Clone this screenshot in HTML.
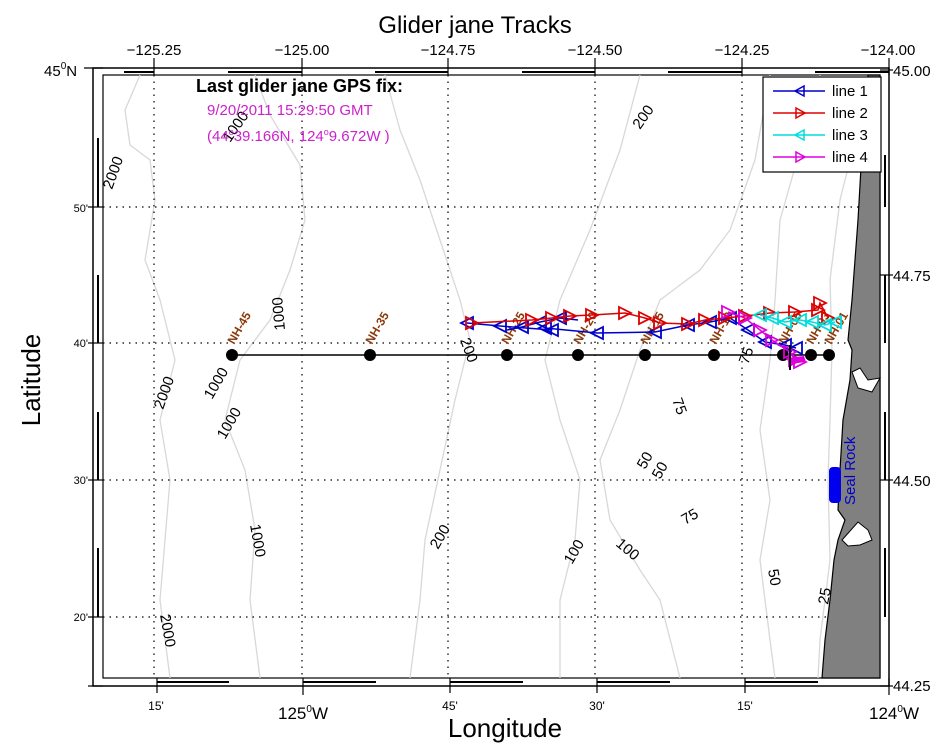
<!DOCTYPE html>
<html><head><style>
body{margin:0;background:#fff;}
svg{display:block;font-family:"Liberation Sans",sans-serif;}
</style></head><body>
<svg width="950" height="748" viewBox="0 0 950 748">
<defs>
<marker id="tl" markerWidth="16" markerHeight="16" refX="8" refY="8" orient="0" markerUnits="userSpaceOnUse"><path d="M14,2 L2,8 L14,14 Z" fill="none" stroke="#0000cc" stroke-width="1.8"/></marker>
<marker id="tr" markerWidth="16" markerHeight="16" refX="8" refY="8" orient="0" markerUnits="userSpaceOnUse"><path d="M2,2 L14,8 L2,14 Z" fill="none" stroke="#dd0000" stroke-width="1.8"/></marker>
<marker id="tc" markerWidth="16" markerHeight="16" refX="8" refY="8" orient="0" markerUnits="userSpaceOnUse"><path d="M14,2 L2,8 L14,14 Z" fill="none" stroke="#00dddd" stroke-width="1.8"/></marker>
<marker id="tm" markerWidth="16" markerHeight="16" refX="8" refY="8" orient="0" markerUnits="userSpaceOnUse"><path d="M2,2 L14,8 L2,14 Z" fill="none" stroke="#dd00dd" stroke-width="1.8"/></marker>
</defs>
<text x="475" y="33" font-size="24" text-anchor="middle">Glider jane Tracks</text>
<g font-size="15" text-anchor="middle">
<text x="154" y="55">−125.25</text><text x="302" y="55">−125.00</text><text x="448" y="55">−124.75</text><text x="595" y="55">−124.50</text><text x="742" y="55">−124.25</text><text x="888" y="55">−124.00</text>
</g>
<g font-size="15">
<text x="893" y="76">45.00</text><text x="893" y="281">44.75</text><text x="893" y="486">44.50</text><text x="893" y="691">44.25</text>
<text x="44" y="76">45<tspan font-size="10" dy="-7">0</tspan><tspan dy="7">N</tspan></text>
</g>
<g font-size="11" text-anchor="end">
<text x="88" y="212">50'</text><text x="88" y="347">40'</text><text x="88" y="484">30'</text><text x="88" y="621">20'</text>
</g>
<g font-size="12" text-anchor="middle">
<text x="156" y="710">15'</text><text x="450" y="710">45'</text><text x="597" y="710">30'</text><text x="745" y="710">15'</text>
</g>
<g font-size="17" text-anchor="middle">
<text x="303" y="719">125<tspan font-size="10" dy="-7">0</tspan><tspan dy="7">W</tspan></text>
<text x="894" y="719">124<tspan font-size="10" dy="-7">0</tspan><tspan dy="7">W</tspan></text>
</g>
<text x="505" y="737" font-size="26" text-anchor="middle">Longitude</text>
<text transform="translate(40,380) rotate(-90)" font-size="26" text-anchor="middle">Latitude</text>
<!-- frame -->
<rect x="93" y="68" width="796" height="618" fill="none" stroke="#000" stroke-width="1.5"/>
<rect x="103" y="75" width="777" height="603" fill="none" stroke="#000" stroke-width="1.2"/>
<g stroke="#000" stroke-width="2">
<line x1="124" y1="72" x2="154" y2="72"/><line x1="228" y1="72" x2="302" y2="72"/><line x1="375" y1="72" x2="448" y2="72"/><line x1="522" y1="72" x2="595" y2="72"/><line x1="668" y1="72" x2="742" y2="72"/><line x1="815" y1="72" x2="889" y2="72"/>
<line x1="157" y1="682" x2="229" y2="682"/><line x1="303" y1="682" x2="376" y2="682"/><line x1="450" y1="682" x2="523" y2="682"/><line x1="597" y1="682" x2="670" y2="682"/><line x1="745" y1="682" x2="818" y2="682"/>
<line x1="98" y1="138" x2="98" y2="207"/><line x1="98" y1="275" x2="98" y2="343"/><line x1="98" y1="412" x2="98" y2="480"/><line x1="98" y1="548" x2="98" y2="617"/>
<line x1="885" y1="155" x2="885" y2="207"/><line x1="885" y1="275" x2="885" y2="343"/><line x1="885" y1="412" x2="885" y2="480"/><line x1="885" y1="548" x2="885" y2="617"/>
</g>
<g stroke="#000" stroke-width="1.2">
<line x1="154" y1="58" x2="154" y2="75"/><line x1="302" y1="58" x2="302" y2="75"/><line x1="448" y1="58" x2="448" y2="75"/><line x1="595" y1="58" x2="595" y2="75"/><line x1="742" y1="58" x2="742" y2="75"/><line x1="889" y1="58" x2="889" y2="75"/>
<line x1="157" y1="678" x2="157" y2="693"/><line x1="303" y1="678" x2="303" y2="695"/><line x1="450" y1="678" x2="450" y2="693"/><line x1="597" y1="678" x2="597" y2="693"/><line x1="745" y1="678" x2="745" y2="693"/><line x1="889" y1="678" x2="889" y2="695"/>
<line x1="88" y1="207" x2="103" y2="207"/><line x1="88" y1="343" x2="103" y2="343"/><line x1="88" y1="480" x2="103" y2="480"/><line x1="88" y1="617" x2="103" y2="617"/><line x1="84" y1="68" x2="103" y2="68"/><line x1="88" y1="686" x2="103" y2="686"/>
<line x1="880" y1="275" x2="893" y2="275"/><line x1="880" y1="480" x2="893" y2="480"/><line x1="880" y1="70" x2="893" y2="70"/><line x1="880" y1="686" x2="893" y2="686"/>
</g>
<!-- contours -->
<g fill="none" stroke="#d8d8d8" stroke-width="1.3">
<path d="M140,75 L125,110 L130,145 L150,160 L155,200 L145,260 L160,300 L175,360 L160,420 L170,480 L165,540 L160,600 L170,678"/>
<path d="M255,75 L270,115 L285,140 L300,165 L305,220 L290,270 L270,320 L240,360 L225,420 L245,470 L255,530 L250,600 L260,678"/>
<path d="M385,75 L400,130 L420,180 L440,240 L460,300 L470,340 L455,400 L440,470 L425,540 L420,600 L410,678"/>
<path d="M640,75 L620,150 L590,230 L560,300 L545,360 L560,420 L580,480 L575,540 L560,600 L560,678"/>
<path d="M770,75 L755,160 L730,230 L700,270 L660,300 L640,350 L620,410 L600,460 L610,520 L640,570 L660,600 L680,678"/>
<path d="M820,75 L800,150 L780,220 L775,300 L770,360 L760,430 L770,500 L760,560 L770,640 L775,678"/>
<path d="M855,140 L840,200 L830,280 L832,350 L830,420 L828,480 L830,560 L820,640 L818,678"/>
</g>
<!-- grid -->
<g stroke="#000" stroke-width="1.2" stroke-dasharray="1.5,5">
<line x1="154" y1="75" x2="154" y2="678"/><line x1="302" y1="75" x2="302" y2="678"/><line x1="448" y1="75" x2="448" y2="678"/><line x1="595" y1="75" x2="595" y2="678"/><line x1="742" y1="75" x2="742" y2="678"/>
<line x1="103" y1="207" x2="880" y2="207"/><line x1="103" y1="343" x2="880" y2="343"/><line x1="103" y1="480" x2="880" y2="480"/><line x1="103" y1="617" x2="880" y2="617"/>
</g>
<!-- land -->
<path d="M880,75 L868,75 L862,150 L858,220 L852,300 L848,340 L852,350 L850,380 L843,420 L840,470 L838,510 L845,520 L838,540 L834,560 L830,600 L825,640 L822,678 L880,678 Z" fill="#808080" stroke="#000" stroke-width="1.2"/>
<path d="M852,372 L860,368 L868,380 L880,378 L872,392 L858,388 Z" fill="#fff" stroke="#000"/>
<path d="M842,540 L858,522 L868,530 L872,540 L860,545 L848,546 Z" fill="#fff" stroke="#000"/>
<!-- contour labels -->
<g font-size="15" fill="#000">
<text transform="translate(112,190) rotate(-70)">2000</text>
<text transform="translate(230,143) rotate(-55)">1000</text>
<text transform="translate(640,130) rotate(-55)">200</text>
<text transform="translate(285,330) rotate(-95)">1000</text>
<text transform="translate(163,410) rotate(-70)">2000</text>
<text transform="translate(212,400) rotate(-60)">1000</text>
<text transform="translate(225,440) rotate(-60)">1000</text>
<text transform="translate(250,525) rotate(80)">1000</text>
<text transform="translate(160,615) rotate(80)">2000</text>
<text transform="translate(460,340) rotate(70)">200</text>
<text transform="translate(438,550) rotate(-60)">200</text>
<text transform="translate(672,400) rotate(70)">75</text>
<text transform="translate(645,470) rotate(-60)">50</text>
<text transform="translate(660,480) rotate(-60)">50</text>
<text transform="translate(685,525) rotate(-30)">75</text>
<text transform="translate(572,565) rotate(-60)">100</text>
<text transform="translate(615,545) rotate(40)">100</text>
<text transform="translate(768,570) rotate(80)">50</text>
<text transform="translate(828,605) rotate(-80)">25</text>
<text transform="translate(748,365) rotate(-70)">75</text>
</g>
<!-- NH line -->
<line x1="232" y1="355" x2="829" y2="355" stroke="#000" stroke-width="1.5"/>
<g fill="#000"><circle cx="232" cy="355" r="6"/><circle cx="370" cy="355" r="6"/><circle cx="507" cy="355" r="6"/><circle cx="578" cy="355" r="6"/><circle cx="645" cy="355" r="6"/><circle cx="714" cy="355" r="6"/><circle cx="783" cy="355" r="6"/><circle cx="811" cy="355" r="6"/><circle cx="829" cy="355" r="6"/></g>
<g font-size="12" font-weight="bold" fill="#8b3a0a">
<text transform="translate(234,345) rotate(-60)">NH-45</text>
<text transform="translate(372,345) rotate(-60)">NH-35</text>
<text transform="translate(508,345) rotate(-60)">NH-25</text>
<text transform="translate(580,345) rotate(-60)">NH-20</text>
<text transform="translate(647,345) rotate(-60)">NH-15</text>
<text transform="translate(716,345) rotate(-60)">NH-10</text>
<text transform="translate(785,345) rotate(-60)">NH-05</text>
<text transform="translate(813,345) rotate(-60)">NH-03</text>
<text transform="translate(831,345) rotate(-60)">NH-01</text>
</g>
<!-- tracks -->
<polyline fill="none" stroke="#0000cc" stroke-width="1.5" marker-start="url(#tl)" marker-mid="url(#tl)" marker-end="url(#tl)" points="467,323 500,326 552,330 545,328 597,333 655,332 688,325 710,322 730,318 748,330 765,342 785,345 796,348"/>
<polyline fill="none" stroke="#0000cc" stroke-width="1.5" marker-mid="url(#tl)" points="507,330 522,327 540,322 560,318 578,320"/>
<polyline fill="none" stroke="#dd0000" stroke-width="1.5" marker-start="url(#tr)" marker-mid="url(#tr)" marker-end="url(#tr)" points="472,323 532,320 552,318 570,316 592,315 625,313 645,318 660,323 688,324 705,320 725,318 745,316 770,313 795,312 818,310 820,303 828,318"/>
<polyline fill="none" stroke="#00dddd" stroke-width="1.5" marker-start="url(#tc)" marker-mid="url(#tc)" marker-end="url(#tc)" points="760,315 772,318 785,322 800,320 812,322 825,325 835,322"/>
<polyline fill="none" stroke="#dd00dd" stroke-width="1.5" marker-start="url(#tm)" marker-mid="url(#tm)" marker-end="url(#tm)" points="728,312 745,318 760,330 772,340 790,352 795,360 800,362"/>
<path d="M786,358 L804,356 L806,362 L790,364 Z" fill="#dd00dd"/>
<line x1="790" y1="345" x2="790" y2="370" stroke="#000" stroke-width="2"/>
<!-- Seal Rock -->
<rect x="829" y="467" width="12" height="36" rx="4" fill="#0000ee"/>
<text transform="translate(855,505) rotate(-90)" font-size="15" fill="#0000cc">Seal Rock</text>
<!-- annotation -->
<text x="196" y="92" font-size="18" font-weight="bold">Last glider jane GPS fix:</text>
<text x="207" y="115" font-size="15" fill="#cc22cc">9/20/2011 15:29:50 GMT</text>
<text x="207" y="141" font-size="15" fill="#cc22cc">(44<tspan font-size="9" dy="-6">o</tspan><tspan dy="6">39.166N, 124</tspan><tspan font-size="9" dy="-6">o</tspan><tspan dy="6">9.672W )</tspan></text>
<!-- legend -->
<rect x="763" y="77" width="118" height="95" fill="#fff" stroke="#000" stroke-width="1.2"/>
<g stroke-width="1.5" fill="none">
<line x1="773" y1="91" x2="825" y2="91" stroke="#0000cc"/><path d="M804,86 L795,91 L804,96 Z" stroke="#0000cc"/>
<line x1="773" y1="113" x2="825" y2="113" stroke="#dd0000"/><path d="M796,108 L805,113 L796,118 Z" stroke="#dd0000"/>
<line x1="773" y1="135" x2="825" y2="135" stroke="#00dddd"/><path d="M804,130 L795,135 L804,140 Z" stroke="#00dddd"/>
<line x1="773" y1="157" x2="825" y2="157" stroke="#dd00dd"/><path d="M796,152 L805,157 L796,162 Z" stroke="#dd00dd"/>
</g>
<g font-size="15"><text x="832" y="96">line 1</text><text x="832" y="118">line 2</text><text x="832" y="140">line 3</text><text x="832" y="162">line 4</text></g>
</svg>
</body></html>
